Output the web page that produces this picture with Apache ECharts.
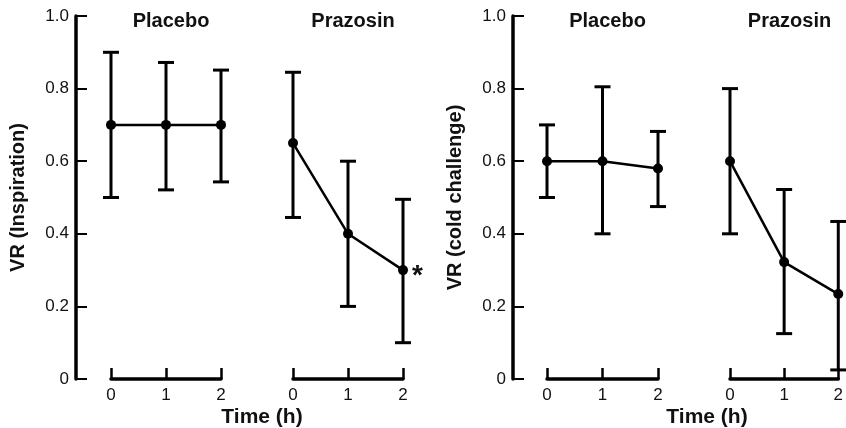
<!DOCTYPE html>
<html>
<head>
<meta charset="utf-8">
<script src="https://cdn.jsdelivr.net/npm/echarts@6/dist/echarts.min.js"></script>
<style>
  html, body { margin: 0; padding: 0; background: #fff; }
  #chart { width: 846px; height: 428px; }
</style>
</head>
<body>
<div id="chart"></div>
<script>
// hours on each segment
const hours = [0, 1, 2];
const groupTitles = ['Placebo', 'Prazosin'];
const yTicks = [0, 0.2, 0.4, 0.6, 0.8, 1.0];

// Panel A: VR (Inspiration)
const inspPlaceboMean = [0.70, 0.70, 0.70];
const inspPlaceboHigh = [0.90, 0.872, 0.851];
const inspPlaceboLow  = [0.50, 0.521, 0.543];
const inspPrazosinMean = [0.65, 0.40, 0.30];
const inspPrazosinHigh = [0.845, 0.60, 0.495];
const inspPrazosinLow  = [0.445, 0.20, 0.10];

// Panel B: VR (cold challenge)
const coldPlaceboMean = [0.60, 0.60, 0.58];
const coldPlaceboHigh = [0.70, 0.805, 0.682];
const coldPlaceboLow  = [0.50, 0.40, 0.475];
const coldPrazosinMean = [0.60, 0.322, 0.234];
const coldPrazosinHigh = [0.80, 0.522, 0.434];
const coldPrazosinLow  = [0.40, 0.125, 0.025];

const FONT = '"Liberation Sans", Arial, Helvetica, sans-serif';
const INK = '#111';

const chart = echarts.init(document.getElementById('chart'), null, { renderer: 'canvas' });

const grids = [], xAxes = [], yAxes = [], series = [], titles = [];

const TOP = 16, BOTTOM = 49;

function addYGrid(left, name) {
    const gi = grids.length;
    grids.push({ left: left, top: TOP, bottom: BOTTOM, width: 300 });
    xAxes.push({ gridIndex: gi, type: 'value', show: false, min: 0, max: 1 });
    yAxes.push({
        gridIndex: gi, type: 'value', min: yTicks[0], max: yTicks[yTicks.length - 1], interval: 0.2,
        name: name, nameLocation: 'middle', nameGap: 48,
        nameTextStyle: { fontFamily: FONT, fontWeight: 'bold', fontSize: 20, color: INK },
        axisLine: { show: true, lineStyle: { color: '#000', width: 3.5 } },
        axisTick: { show: true, inside: true, length: 11, lineStyle: { color: '#000', width: 2 } },
        axisLabel: {
            margin: 7, fontFamily: FONT, fontSize: 17, color: INK,
            formatter: v => (v === 0 ? '0' : v.toFixed(1))
        },
        splitLine: { show: false }
    });
}

function addSegment(left, width, title, mean, low, high, star) {
    const gi = grids.length;
    grids.push({ left: left, top: TOP, bottom: BOTTOM, width: width });
    xAxes.push({
        gridIndex: gi, type: 'value', min: 0, max: 2, interval: 1,
        axisLine: { show: true, onZero: false, lineStyle: { color: '#000', width: 3.5 } },
        axisTick: { show: true, inside: true, length: 11, lineStyle: { color: '#000', width: 2.5 } },
        axisLabel: { margin: 8, fontFamily: FONT, fontSize: 17, color: INK },
        splitLine: { show: false }
    });
    yAxes.push({ gridIndex: gi, type: 'value', min: 0, max: 1, show: false });

    titles.push({
        text: title, left: left + width / 2, top: 6, textAlign: 'center',
        textStyle: { fontFamily: FONT, fontWeight: 'bold', fontSize: 20, color: INK }
    });

    series.push({
        type: 'custom', xAxisIndex: gi, yAxisIndex: gi, silent: true, clip: false,
        data: hours.map((h, i) => [h, low[i], high[i]]),
        renderItem: function (params, api) {
            const x = api.value(0);
            const lo = api.coord([x, api.value(1)]);
            const hi = api.coord([x, api.value(2)]);
            const cap = 8;
            const style = { stroke: '#000', lineWidth: 3 };
            return {
                type: 'group',
                children: [
                    { type: 'line', shape: { x1: lo[0], y1: lo[1], x2: hi[0], y2: hi[1] }, style },
                    { type: 'line', shape: { x1: hi[0] - cap, y1: hi[1], x2: hi[0] + cap, y2: hi[1] }, style },
                    { type: 'line', shape: { x1: lo[0] - cap, y1: lo[1], x2: lo[0] + cap, y2: lo[1] }, style }
                ]
            };
        },
        z: 2
    });

    series.push({
        type: 'line', xAxisIndex: gi, yAxisIndex: gi, clip: false,
        data: hours.map((h, i) => {
            const item = { value: [h, mean[i]] };
            if (star && i === star.index) {
                item.label = {
                    show: true, formatter: star.text, position: 'right', distance: 4,
                    fontFamily: FONT, fontWeight: 'bold', fontSize: 28, color: INK, offset: [0, 6]
                };
            }
            return item;
        }),
        symbol: 'circle', symbolSize: 10,
        itemStyle: { color: '#000' },
        lineStyle: { color: '#000', width: 2.5 },
        z: 3
    });
}

// left panel
addYGrid(76, 'VR (Inspiration)');
addSegment(111, 110, groupTitles[0], inspPlaceboMean, inspPlaceboLow, inspPlaceboHigh);
addSegment(293, 110, groupTitles[1], inspPrazosinMean, inspPrazosinLow, inspPrazosinHigh, { index: 2, text: '*' });

// right panel
addYGrid(513, 'VR (cold challenge)');
addSegment(547, 111, groupTitles[0], coldPlaceboMean, coldPlaceboLow, coldPlaceboHigh);
addSegment(730, 109, groupTitles[1], coldPrazosinMean, coldPrazosinLow, coldPrazosinHigh);

// shared x-axis name per panel
titles.push({
    text: 'Time (h)', left: 257, top: 402, textAlign: 'center',
    textStyle: { fontFamily: FONT, fontWeight: 'bold', fontSize: 21, color: INK }
});
titles.push({
    text: 'Time (h)', left: 702, top: 402, textAlign: 'center',
    textStyle: { fontFamily: FONT, fontWeight: 'bold', fontSize: 21, color: INK }
});

chart.setOption({
    backgroundColor: '#fff',
    animation: false,
    title: titles,
    grid: grids,
    xAxis: xAxes,
    yAxis: yAxes,
    series: series
});
</script>
</body>
</html>
